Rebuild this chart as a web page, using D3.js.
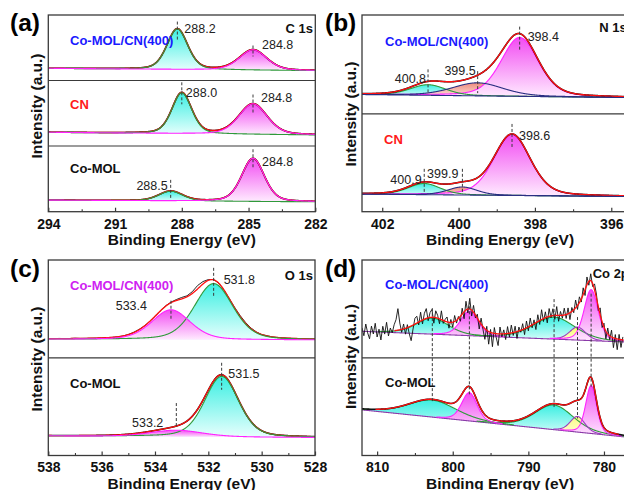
<!DOCTYPE html>
<html><head><meta charset="utf-8">
<script src="https://cdn.jsdelivr.net/npm/d3@7"></script>
<style>
body{margin:0;background:#fff;}
svg{display:block;font-family:"Liberation Sans",Arial,sans-serif;}
</style>
</head><body>
<svg id="chart" width="624" height="490"></svg>
<script>
// ================= DATA =================
// (a) C 1s  — intensities in % of each stacked sub-panel height
const aTicks = [294, 291, 288, 285, 282];
const aMinor = [292.5, 289.5, 286.5, 283.5];
const aSamples = ["Co-MOL/CN(400)", "CN", "Co-MOL"];
const aCenters = [[288.2, 284.8], [288.0, 284.8], [288.5, 284.8]];
const aHeights = [[62.0, 31.0], [62.4, 46.6], [14.8, 65.6]];
const aFwhm = [[1.1, 1.45], [1.05, 1.5], [1.27, 1.2]];
const aKinds = ["cyan", "magenta"];
const aBaseline = [[18.6, 15.0], [20.9, 16.8], [17.6, 15.0]];

// (b) N 1s
const bTicks = [402, 400, 398, 396];
const bMinor = [401, 399, 397];
const bSamples = ["Co-MOL/CN(400)", "CN"];
const bCenters = [[398.4, 399.5, 400.8], [398.6, 399.9, 400.9]];
const bHeights = [[59.6, 13.2, 10.7], [62.4, 8.2, 11.4]];
const bFwhm = [[1.15, 1.57, 1.1], [1.13, 0.9, 1.0]];
const bKinds = ["magenta", "salmon", "cyan"];
const bBaseline = [[19.5, 16.3], [18.0, 15.4]];

// (c) O 1s
const cTicks = [538, 536, 534, 532, 530, 528];
const cMinor = [537, 535, 533, 531, 529];
const cSamples = ["Co-MOL/CN(400)", "Co-MOL"];
const cCenters = [[531.8, 533.4], [531.5, 533.2]];
const cHeights = [[57.4, 30.5], [62.0, 6.6]];
const cFwhm = [[1.7, 1.7], [1.5, 2.3]];
const cKinds = ["cyan", "magenta"];
const cBaseline = [[18.9, 18.2], [20.1, 18.4]];
// measured minus fit, Co-MOL/CN(400), 538 -> 528 eV every 0.2 eV
const cResidual = [0, 0, 0.2, 0, 0, 0.3, 0, 0, 0, 0,
  0, 0, 0, 0, 0, 0.2, 0.4, 0.4, 0.2, 0,
  -0.3, 0, 0.4, 0.6, 1, 1.5, 1, 1.8, 3.5, 2.5,
  0.8, 0.3, 0, 0, 0.3, 0.6, 1, 1, 0.6, 0.3,
  0, 0.3, 0, 0, 0, 0, 0, 0, 0, 0, 0];

// (d) Co 2p
const dTicks = [810, 800, 790, 780];
const dMinor = [805, 795, 785];
const dSamples = ["Co-MOL/CN(400)", "Co-MOL"];
const dCenters = [[802.7, 797.8, 786.6, 783.5, 781.7], [802.7, 797.8, 786.6, 783.5, 781.7]];
const dHeights = [[16.4, 24.9, 22.5, 13.3, 52.1], [17.4, 29.0, 25.2, 16.0, 49.0]];
const dFwhm = [[5.0, 2.8, 6.5, 2.5, 2.2], [7.5, 2.4, 6.0, 2.3, 1.7]];
const dKinds = ["cyan", "magenta", "cyan", "yellow", "magenta"];
const dBaseline = [[27.1, 15.6], [46.7, 17.6]];
// measured minus fit, Co-MOL/CN(400), 812 -> 777.5 eV every 0.25 eV (noisy spectrum)
const dResidual = [3, -5, 7, -2, -8, 5, -3, 8, -6,
  2, -9, 5, -3, 9, -5, 3, -2,
  6, 11, 22, 7,
  -3, 5, -6, 3, -7, -15, -4, 6,
  7, -3, 9, -4, 6, 10, -3, 5,
  8, -6, 7, 3, -5, 9, -3, 2,
  5, -6, 3, -5, 6, -3, 2, -5,
  6, -7, 9, -4, 11, -6, 7, -3,
  4, -8, 6, -3, -11, 4, -13, 3,
  -14, 6, -4, -12, 7, -3, 4, -6,
  7, -4, 8, -3, 6, -7, 4, -2,
  6, -6, 7, -4, 8, -3, 4, -7,
  7, -4, 10, -3, 6, -6, 8, -2,
  7, -4, 9, -6, 4, -3, 7, -4,
  6, -7, 4, -3, 8, -4, 6, -3,
  7, -6, 8, -4, 7, -3, 6, 4,
  -4, 7, -6, 4, -8, 6, -4, 7,
  -10, 4, -11, 5, -8, 3];

// ================= STYLE =================
const gradCols = {
  cyan: ["#3cefe2", "#e8fffd"],
  magenta: ["#f24cf2", "#ffecff"],
  salmon: ["#ef8b7d", "#fde8e4"],
  yellow: ["#fafa66", "#fffee8"]
};
const strokeCol = { cyan: "#2f9a3a", magenta: "#ff22ff", salmon: "#2a2f82", yellow: "#9b3fc0" };
const fillRank = { cyan: 0, salmon: 1, yellow: 2, magenta: 3 };
const MIX = 0.3;
function pv(e, c, h, w) {
  const t = (e - c) / w, t2 = 4 * t * t;
  return h * ((1 - MIX) * Math.exp(-Math.LN2 * t2) + MIX / (1 + t2));
}

const svg = d3.select("#chart");
const defs = svg.append("defs");
Object.entries(gradCols).forEach(([k, [c0, c1]]) => {
  const g = defs.append("linearGradient").attr("id", "g-" + k)
    .attr("x1", 0).attr("y1", 0).attr("x2", 0).attr("y2", 1);
  g.append("stop").attr("offset", "0%").attr("stop-color", c0);
  g.append("stop").attr("offset", "100%").attr("stop-color", c1);
});

function drawPanel(P) {
  const x = d3.scaleLinear().domain(P.domain).range([P.x0, P.x1]);
  const cid = "clip-" + P.id;
  defs.append("clipPath").attr("id", cid).append("rect")
    .attr("x", P.x0).attr("y", P.y0).attr("width", P.x1 - P.x0).attr("height", P.y1 - P.y0);
  const plot = svg.append("g").attr("clip-path", `url(#${cid})`);
  const N = 900;
  const es = d3.range(N + 1).map(i => P.domain[0] + (P.domain[1] - P.domain[0]) * i / N);
  const subs = P.subs.map((S, si) => {
    const y = d3.scaleLinear().domain([0, 100]).range([S.bottom, S.top]);
    const base = e => S.baseline[0] + (S.baseline[1] - S.baseline[0]) * (e - P.domain[0]) / (P.domain[1] - P.domain[0]);
    const comps = S.centers.map((c, k) => ({ c, h: S.heights[k], w: S.fwhm[k], kind: P.kinds[k], k }));
    const sig = e => d3.sum(comps, p => pv(e, p.c, p.h, p.w));
    const env = e => base(e) + sig(e);
    const layers = {
      fill() {
        comps.slice().sort((a, b) => fillRank[a.kind] - fillRank[b.kind]).forEach(p => {
          plot.append("path").datum(es)
            .attr("d", d3.area().x(e => x(e)).y0(e => y(base(e))).y1(e => y(base(e) + pv(e, p.c, p.h, p.w))))
            .attr("fill", `url(#g-${p.kind})`);
        });
      },
      outline() {
        P.outlineOrder.forEach(k => {
          const p = comps[k];
          const line = d3.line().x(e => x(e)).y(e => y(base(e) + pv(e, p.c, p.h, p.w)));
          if (P.threshold) line.defined(e => pv(e, p.c, p.h, p.w) > P.threshold);
          plot.append("path").datum(es).attr("d", line).attr("fill", "none")
            .attr("stroke", strokeCol[p.kind]).attr("stroke-width", 1.1);
        });
      },
      raw() {
        let pts;
        if (S.residual) {
          pts = S.residual.map((r, i) => { const e = S.resStart - S.resStep * i; return [x(e), y(env(e) + r)]; });
        } else {
          pts = es.map(e => [x(e), y(env(e))]);
        }
        plot.append("path").datum(pts).attr("d", d3.line()).attr("fill", "none")
          .attr("stroke", "#111").attr("stroke-width", S.residual ? 0.9 : 1.6);
      },
      env() {
        const line = d3.line().x(e => x(e)).y(e => y(env(e)));
        if (P.envThreshold) line.defined(e => sig(e) > P.envThreshold);
        plot.append("path").datum(es).attr("d", line).attr("fill", "none")
          .attr("stroke", "#ff1010").attr("stroke-width", 1.3);
      },
      base() {
        plot.append("path").datum(es)
          .attr("d", d3.line().x(e => x(e)).y(e => y(base(e))))
          .attr("fill", "none").attr("stroke", P.baseColor).attr("stroke-width", 1.1);
      }
    };
    P.order.forEach(l => layers[l]());
    return { S, y, base, comps, env };
  });

  // dashed markers and peak labels
  subs.forEach(({ S, y, env, comps }) => {
    if (S.dash) comps.forEach(p => {
      const yc = y(env(p.c)), [up, dn] = S.dash[p.k];
      plot.append("line").attr("x1", x(p.c)).attr("x2", x(p.c)).attr("y1", yc + up).attr("y2", yc + dn)
        .attr("stroke", "#3a3a3a").attr("stroke-width", 1).attr("stroke-dasharray", "3,2");
    });
    if (S.peakLabels) comps.forEach(p => {
      const [dx, yb, anchor] = S.peakLabels[p.k];
      svg.append("text").attr("x", x(p.c) + dx).attr("y", yb).attr("text-anchor", anchor)
        .attr("font-size", 12.5).attr("fill", "#222").text(d3.format(".1f")(p.c));
    });
    svg.append("text").attr("x", S.label.x).attr("y", S.label.y).attr("font-size", 13)
      .attr("font-weight", "bold").attr("fill", S.label.color).text(S.label.text);
  });

  if (P.crossDash) {
    const [s1, s2] = subs;
    s1.comps.forEach(p => {
      const top1 = s1.y(s1.base(p.c) + p.h), top2 = s2.y(s2.base(p.c) + s2.comps[p.k].h);
      plot.append("line").attr("x1", x(p.c)).attr("x2", x(p.c))
        .attr("y1", top1 + P.crossDash.start[p.k]).attr("y2", top2 + P.crossDash.end[p.k])
        .attr("stroke", "#3a3a3a").attr("stroke-width", 1).attr("stroke-dasharray", "3,2");
    });
  }

  // frame + dividers
  svg.append("rect").attr("x", P.x0).attr("y", P.y0).attr("width", P.x1 - P.x0).attr("height", P.y1 - P.y0)
    .attr("fill", "none").attr("stroke", "#3a3a3a").attr("stroke-width", 1.3);
  P.subs.slice(1).forEach(S => {
    svg.append("line").attr("x1", P.x0).attr("x2", P.x1).attr("y1", S.top).attr("y2", S.top)
      .attr("stroke", "#3a3a3a").attr("stroke-width", 1.2);
  });
  // axes (inward ticks)
  const ax = svg.append("g").attr("transform", `translate(0,${P.y1})`)
    .call(d3.axisBottom(x).tickValues(P.ticks).tickFormat(d3.format("d")).tickSizeInner(-4).tickSizeOuter(0).tickPadding(7));
  ax.select(".domain").remove();
  ax.selectAll("line").attr("stroke", "#3a3a3a").attr("stroke-width", 1.2);
  ax.selectAll("text").attr("font-size", 14).attr("font-weight", "bold").attr("fill", "#111")
    .attr("font-family", '"Liberation Sans",Arial,sans-serif');
  const mx = svg.append("g").attr("transform", `translate(0,${P.y1})`)
    .call(d3.axisBottom(x).tickValues(P.minor).tickFormat("").tickSizeInner(-2.5).tickSizeOuter(0));
  mx.select(".domain").remove();
  mx.selectAll("line").attr("stroke", "#3a3a3a").attr("stroke-width", 1.1);

  svg.append("text").attr("x", (P.x0 + P.x1) / 2).attr("y", P.y1 + 33.5).attr("text-anchor", "middle")
    .attr("font-size", 15.5).attr("font-weight", "bold").attr("fill", "#111").text("Binding Energy (eV)");
  svg.append("text").attr("transform", `translate(${P.ylab[0]},${P.ylab[1]}) rotate(-90)`)
    .attr("text-anchor", "middle").attr("dy", "0.36em")
    .attr("font-size", 15.5).attr("font-weight", "bold").attr("fill", "#111").text("Intensity (a.u.)");
  svg.append("text").attr("x", P.letter[0]).attr("y", P.letter[1]).attr("font-size", 24.5)
    .attr("font-weight", "bold").attr("fill", "#000").text(P.letter[2]);
  svg.append("text").attr("x", P.title[0]).attr("y", P.title[1]).attr("text-anchor", P.title[3])
    .attr("font-size", 13).attr("font-weight", "bold").attr("fill", "#111").text(P.title[2]);
}

const BLUE = "#1a1aff", RED = "#ff1a1a", VIOLET = "#cf22f2", BLACK = "#111";

// (a)
drawPanel({
  id: "a", domain: [294, 282], x0: 48.3, x1: 315.3, y0: 15, y1: 211.7,
  ticks: aTicks, minor: aMinor, kinds: aKinds,
  order: ["fill", "raw", "env", "outline"], outlineOrder: [0, 1],
  ylab: [36, 106], letter: [10, 30.5, "(a)"], title: [313, 33.3, "C 1s", "end"],
  subs: [
    { top: 15, bottom: 80.5, centers: aCenters[0], heights: aHeights[0], fwhm: aFwhm[0], baseline: aBaseline[0],
      dash: [[-7, 13], [-4, 7]], peakLabels: [[7, 33, "start"], [9, 49, "start"]],
      label: { text: aSamples[0], x: 70, y: 45, color: BLUE } },
    { top: 80.5, bottom: 146, centers: aCenters[1], heights: aHeights[1], fwhm: aFwhm[1], baseline: aBaseline[1],
      dash: [[-10, 12], [-9, 9]], peakLabels: [[4, 96.5, "start"], [8, 101.5, "start"]],
      label: { text: aSamples[1], x: 70, y: 108.5, color: RED } },
    { top: 146, bottom: 211.7, centers: aCenters[2], heights: aHeights[2], fwhm: aFwhm[2], baseline: aBaseline[2],
      dash: [[-11, 9], [-9, 9]], peakLabels: [[-3, 190, "end"], [9, 166, "start"]],
      label: { text: aSamples[2], x: 70, y: 172.5, color: BLACK } }
  ]
});

// (b)
drawPanel({
  id: "b", domain: [402.53, 395.3], x0: 362, x1: 638, y0: 15, y1: 211.7,
  ticks: bTicks, minor: bMinor, kinds: bKinds,
  order: ["fill", "outline", "raw", "env", "base"], outlineOrder: [0, 2, 1], baseColor: "#2a2f82",
  ylab: [350, 114], letter: [325, 30.5, "(b)"], title: [599.3, 32.3, "N 1s", "start"],
  subs: [
    { top: 15, bottom: 113.8, centers: bCenters[0], heights: bHeights[0], fwhm: bFwhm[0], baseline: bBaseline[0],
      dash: [[-7, 17], [-4, 18], [-12, 11]], peakLabels: [[8, 41, "start"], [-2, 74.5, "end"], [-2, 83, "end"]],
      label: { text: bSamples[0], x: 385, y: 45.5, color: BLUE } },
    { top: 113.8, bottom: 211.7, centers: bCenters[1], heights: bHeights[1], fwhm: bFwhm[1], baseline: bBaseline[1],
      dash: [[-10, 14], [-13, 11], [-13, 11]], peakLabels: [[7, 140, "start"], [-4, 178, "end"], [-2.6, 184, "end"]],
      label: { text: bSamples[1], x: 384, y: 144, color: RED } }
  ]
});

// (c)
drawPanel({
  id: "c", domain: [538, 528], x0: 48.3, x1: 315, y0: 260, y1: 455.5,
  ticks: cTicks, minor: cMinor, kinds: cKinds,
  order: ["fill", "raw", "env", "outline"], outlineOrder: [0, 1],
  ylab: [36, 359], letter: [10, 276.5, "(c)"], title: [313, 279.5, "O 1s", "end"],
  subs: [
    { top: 260, bottom: 357.8, centers: cCenters[0], heights: cHeights[0], fwhm: cFwhm[0], baseline: cBaseline[0],
      residual: cResidual, resStart: 538, resStep: 0.2,
      dash: [[-12, 16], [-2, 17]], peakLabels: [[10, 284.3, "start"], [-24, 310, "end"]],
      label: { text: cSamples[0], x: 70, y: 290, color: VIOLET } },
    { top: 357.8, bottom: 455.5, centers: cCenters[1], heights: cHeights[1], fwhm: cFwhm[1], baseline: cBaseline[1],
      dash: [[-12, 15], [-23, 2]], peakLabels: [[6.6, 378.3, "start"], [-13, 426.7, "end"]],
      label: { text: cSamples[1], x: 70, y: 387.7, color: BLACK } }
  ]
});

// (d)
drawPanel({
  id: "d", domain: [812, 775.5], x0: 362, x1: 638, y0: 260, y1: 455.5,
  ticks: dTicks, minor: dMinor, kinds: dKinds,
  order: ["fill", "base", "outline", "raw", "env"], outlineOrder: [0, 2, 1, 3, 4],
  threshold: 0.6, envThreshold: 2, baseColor: "#8a3aa8",
  crossDash: { start: [-10, -10, -18, -10, 4], end: [1, 2, 2, 2, 3] },
  ylab: [350, 356.5], letter: [325, 277, "(d)"], title: [592.7, 278, "Co 2p", "start"],
  subs: [
    { top: 260, bottom: 357.8, centers: dCenters[0], heights: dHeights[0], fwhm: dFwhm[0], baseline: dBaseline[0],
      residual: dResidual, resStart: 812, resStep: 0.25,
      label: { text: dSamples[0], x: 385, y: 289, color: BLUE } },
    { top: 357.8, bottom: 455.5, centers: dCenters[1], heights: dHeights[1], fwhm: dFwhm[1], baseline: dBaseline[1],
      label: { text: dSamples[1], x: 385, y: 386.7, color: BLACK } }
  ]
});
</script>
</body></html>
